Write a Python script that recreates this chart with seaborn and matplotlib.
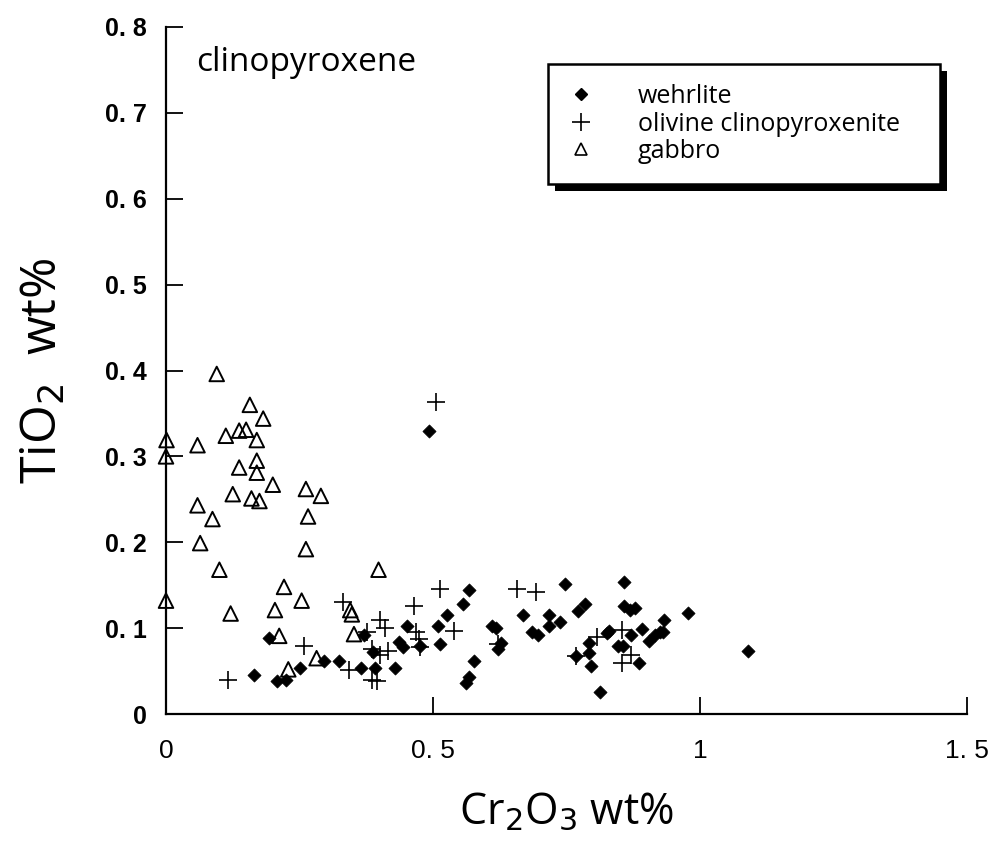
import matplotlib
matplotlib.use("Agg")
import matplotlib.pyplot as plt
from matplotlib.lines import Line2D
from matplotlib.patches import Rectangle
from matplotlib.ticker import FixedLocator
import seaborn as sns

# ---- data ----
wehrlite_x = [0.192, 0.164, 0.208, 0.225, 0.250, 0.296, 0.324, 0.365, 0.391, 0.429,
              0.371, 0.387, 0.437, 0.443, 0.452, 0.476, 0.510, 0.514, 0.527, 0.556,
              0.568, 0.577, 0.562, 0.568, 0.610, 0.618, 0.622, 0.627, 0.668, 0.685,
              0.697, 0.718, 0.718, 0.738, 0.747, 0.771, 0.785, 0.767, 0.793, 0.793,
              0.796, 0.813, 0.825, 0.830, 0.847, 0.855, 0.858, 0.858, 0.869, 0.878,
              0.870, 0.891, 0.905, 0.916, 0.925, 0.930, 0.933, 0.978, 0.885, 1.090,
              0.493]
wehrlite_y = [0.089, 0.045, 0.038, 0.040, 0.054, 0.062, 0.062, 0.054, 0.054, 0.054,
              0.092, 0.072, 0.084, 0.078, 0.102, 0.079, 0.102, 0.082, 0.115, 0.128,
              0.144, 0.062, 0.036, 0.043, 0.102, 0.100, 0.076, 0.083, 0.115, 0.095,
              0.092, 0.115, 0.102, 0.107, 0.151, 0.120, 0.128, 0.068, 0.083, 0.071,
              0.056, 0.026, 0.094, 0.097, 0.079, 0.079, 0.154, 0.126, 0.121, 0.123,
              0.092, 0.099, 0.085, 0.092, 0.095, 0.096, 0.110, 0.118, 0.059, 0.073,
              0.330]

olivine_x = [0.117, 0.258, 0.332, 0.342, 0.376, 0.385, 0.400, 0.410, 0.400, 0.416,
             0.385, 0.395, 0.464, 0.514, 0.469, 0.473, 0.475, 0.539, 0.622, 0.658,
             0.692, 0.767, 0.808, 0.853, 0.853, 0.870, 0.506]
olivine_y = [0.040, 0.079, 0.131, 0.051, 0.096, 0.076, 0.109, 0.100, 0.069, 0.073,
             0.040, 0.038, 0.126, 0.145, 0.095, 0.087, 0.078, 0.097, 0.082, 0.146,
             0.142, 0.067, 0.090, 0.098, 0.059, 0.069, 0.363]

gabbro_x = [0.095, 0.157, 0.182, 0.112, 0.137, 0.150, 0.170, 0.001, 0.000, 0.059,
            0.137, 0.170, 0.170, 0.200, 0.125, 0.160, 0.175, 0.262, 0.290, 0.059,
            0.266, 0.087, 0.064, 0.262, 0.100, 0.398, 0.221, 0.000, 0.254, 0.121,
            0.204, 0.345, 0.348, 0.212, 0.352, 0.282, 0.229]
gabbro_y = [0.396, 0.360, 0.344, 0.324, 0.330, 0.331, 0.319, 0.319, 0.300, 0.313,
            0.287, 0.295, 0.281, 0.267, 0.256, 0.251, 0.248, 0.262, 0.254, 0.243,
            0.230, 0.227, 0.199, 0.192, 0.168, 0.168, 0.148, 0.132, 0.132, 0.117,
            0.121, 0.121, 0.116, 0.091, 0.093, 0.065, 0.052]

series_names = ["wehrlite", "olivine clinopyroxenite", "gabbro"]
x_ticks = [0, 0.5, 1, 1.5]
x_tick_labels = ["0", "0. 5", "1", "1. 5"]
y_ticks = [0, 0.1, 0.2, 0.3, 0.4, 0.5, 0.6, 0.7, 0.8]
y_tick_labels = ["0", "0. 1", "0. 2", "0. 3", "0. 4", "0. 5", "0. 6", "0. 7", "0. 8"]

# ---- style ----
sns.set_style("ticks")
plt.rcParams["font.family"] = ["Open Sans", "DejaVu Sans"]
plt.rcParams["text.color"] = "black"
plt.rcParams["axes.labelcolor"] = "black"
plt.rcParams["xtick.color"] = "black"
plt.rcParams["ytick.color"] = "black"

fig = plt.figure(figsize=(9.9, 8.49), dpi=100)
ax = fig.add_axes([166 / 990, 1 - 714 / 849, (967 - 166) / 990, (714 - 27) / 849])

sns.scatterplot(x=wehrlite_x, y=wehrlite_y, marker="D", color="black", s=45,
                edgecolor="black", linewidth=0.5, ax=ax, clip_on=False, zorder=3)
sns.scatterplot(x=olivine_x, y=olivine_y, marker="+", color="black", s=150,
                linewidth=1.2, ax=ax, clip_on=False, zorder=3)
sns.scatterplot(x=gabbro_x, y=gabbro_y, marker="^", facecolor="none", edgecolor="black",
                s=110, linewidth=1.4, ax=ax, clip_on=False, zorder=3)

ax.set_xlim(0, 1.5)
ax.set_ylim(0, 0.8)
ax.xaxis.set_major_locator(FixedLocator(x_ticks))
ax.yaxis.set_major_locator(FixedLocator(y_ticks))
ax.set_xticklabels(x_tick_labels, fontsize=19, family=["Liberation Sans", "DejaVu Sans"])
ax.set_yticklabels(y_tick_labels, fontsize=18, fontweight="bold", family=["Liberation Sans", "DejaVu Sans"])
ax.tick_params(axis="both", direction="in", length=12, width=1.3, colors="black")
ax.tick_params(axis="x", pad=18)
ax.tick_params(axis="y", pad=14)
for s in ["top", "right"]:
    ax.spines[s].set_visible(False)
for s in ["left", "bottom"]:
    ax.spines[s].set_linewidth(1.6)
    ax.spines[s].set_color("black")

ax.set_xlabel(r"Cr$_2$O$_3$ wt%", fontsize=31, labelpad=20)
ax.set_ylabel(r"TiO$_2$  wt%", fontsize=36, labelpad=26)

ax.text(0.037, 0.972, "clinopyroxene", transform=ax.transAxes, fontsize=24,
        va="top", ha="left")

# ---- legend with heavy shadow ----
handles = [
    Line2D([], [], marker="D", color="black", linestyle="none", markersize=6),
    Line2D([], [], marker="+", color="black", linestyle="none", markersize=13, markeredgewidth=1.2),
    Line2D([], [], marker="^", markerfacecolor="none", markeredgecolor="black",
           linestyle="none", markersize=9, markeredgewidth=1.2),
]
leg = ax.legend(handles, series_names, loc="upper left",
                bbox_to_anchor=(0.477, 0.775, 0.489, 0.171), mode="expand",
                bbox_transform=ax.transAxes, frameon=True, fancybox=False,
                fontsize=18, handlelength=1.0, handletextpad=1.8,
                borderpad=0.8, labelspacing=0.1, borderaxespad=0)
frame = leg.get_frame()
frame.set_edgecolor("black")
frame.set_linewidth(1.8)
frame.set_facecolor("white")
frame.set_alpha(1)
leg.set_zorder(5)

fig.canvas.draw()
bb = leg.get_window_extent().transformed(ax.transAxes.inverted())
dx = 7 / 801
dy = 7 / 687
shadow = Rectangle((bb.x0 + dx, bb.y0 - dy), bb.width, bb.height, transform=ax.transAxes,
                   facecolor="black", edgecolor="none", zorder=4, clip_on=False)
ax.add_patch(shadow)

fig.savefig("out.png", dpi=100)
